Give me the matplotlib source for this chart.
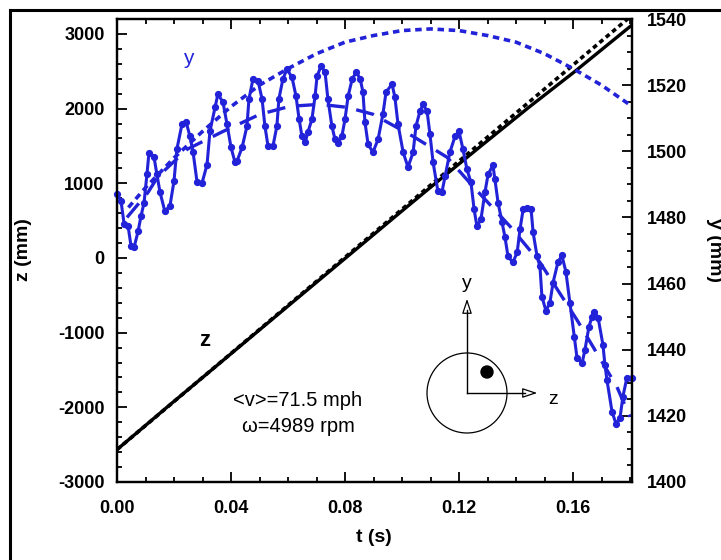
import matplotlib
matplotlib.use('Agg')
import matplotlib.pyplot as plt
from matplotlib.ticker import MultipleLocator, FixedLocator
from matplotlib.patches import Circle
from matplotlib.lines import Line2D

plt.rcParams['font.family'] = ['Liberation Sans', 'DejaVu Sans']
plt.rcParams['axes.unicode_minus'] = False

BLUE = '#2222d8'

# ---- measured y (right axis, mm) ----
t_y = [0.0000, 0.0014, 0.0025, 0.0039, 0.0049, 0.0060, 0.0074, 0.0084, 0.0095, 0.0105,
       0.0112, 0.0130, 0.0140, 0.0151, 0.0168, 0.0186, 0.0200, 0.0210, 0.0228, 0.0242,
       0.0256, 0.0267, 0.0281, 0.0298, 0.0316, 0.0326, 0.0344, 0.0354, 0.0372, 0.0386,
       0.0400, 0.0414, 0.0421, 0.0439, 0.0456, 0.0463, 0.0477, 0.0495, 0.0509, 0.0519,
       0.0530, 0.0547, 0.0561, 0.0568, 0.0582, 0.0596, 0.0614, 0.0628, 0.0639, 0.0649,
       0.0660, 0.0670, 0.0684, 0.0695, 0.0702, 0.0716, 0.0730, 0.0740, 0.0754, 0.0765,
       0.0775, 0.0789, 0.0800, 0.0811, 0.0825, 0.0839, 0.0853, 0.0863, 0.0870, 0.0881,
       0.0898, 0.0916, 0.0933, 0.0944, 0.0965, 0.0975, 0.0986, 0.1004, 0.1021, 0.1039,
       0.1049, 0.1063, 0.1074, 0.1088, 0.1098, 0.1109, 0.1126, 0.1140, 0.1151, 0.1168,
       0.1186, 0.1200, 0.1214, 0.1228, 0.1242, 0.1253, 0.1263, 0.1277, 0.1291, 0.1302,
       0.1319, 0.1326, 0.1337, 0.1351, 0.1361, 0.1372, 0.1389, 0.1404, 0.1414, 0.1425,
       0.1439, 0.1453, 0.1460, 0.1474, 0.1484, 0.1491, 0.1505, 0.1519, 0.1530, 0.1547,
       0.1561, 0.1575, 0.1589, 0.1604, 0.1614, 0.1632, 0.1642, 0.1656, 0.1667, 0.1674,
       0.1688, 0.1705, 0.1712, 0.1719, 0.1737, 0.1751, 0.1765, 0.1775, 0.1789, 0.1807]
y_meas = [1487.0, 1485.0, 1478.0, 1477.3, 1471.5, 1471.0, 1475.8, 1480.3, 1484.5, 1493.0,
          1499.4, 1498.2, 1493.0, 1487.6, 1481.8, 1483.6, 1491.0, 1500.6, 1508.2, 1509.0,
          1504.5, 1499.7, 1490.6, 1490.3, 1496.0, 1506.0, 1513.3, 1517.3, 1514.8, 1508.2,
          1501.2, 1496.7, 1497.0, 1501.2, 1507.6, 1515.8, 1521.8, 1521.2, 1515.8, 1507.6,
          1501.5, 1501.5, 1507.6, 1515.8, 1521.8, 1524.8, 1522.4, 1516.7, 1509.7, 1504.5,
          1502.7, 1505.8, 1509.7, 1516.7, 1522.7, 1525.8, 1523.9, 1515.8, 1507.6, 1503.6,
          1502.4, 1504.5, 1509.7, 1516.7, 1521.8, 1523.9, 1522.0, 1517.9, 1508.8, 1502.1,
          1499.7, 1503.6, 1511.2, 1517.9, 1520.3, 1516.4, 1508.2, 1499.7, 1495.2, 1499.7,
          1507.6, 1512.1, 1514.2, 1512.1, 1505.2, 1496.7, 1487.9, 1487.6, 1492.4, 1499.7,
          1504.5, 1506.0, 1500.6, 1494.5, 1490.6, 1482.4, 1477.3, 1479.4, 1487.6, 1493.0,
          1495.8, 1491.5, 1484.5, 1478.5, 1474.2, 1468.2, 1466.4, 1469.4, 1476.4, 1482.4,
          1483.0, 1482.4, 1475.5, 1468.2, 1465.2, 1456.0, 1451.8, 1454.2, 1460.3, 1466.4,
          1468.5, 1463.6, 1454.2, 1443.9, 1437.6, 1436.0, 1440.0, 1447.0, 1450.0, 1451.5,
          1449.7, 1441.5, 1435.5, 1430.9, 1421.2, 1417.6, 1419.4, 1425.8, 1431.5, 1431.5]

# ---- smoothed y (dashed) ----
t_ysm = [0.0035, 0.0109, 0.0144, 0.0246, 0.0372, 0.0502, 0.0607, 0.0712, 0.0807, 0.0898,
         0.1039, 0.1158, 0.1249, 0.1379, 0.1484, 0.1614, 0.1754, 0.1800]
y_sm = [1480.0, 1487.6, 1492.4, 1500.6, 1506.0, 1511.2, 1513.6, 1514.2, 1513.3, 1511.2,
        1504.5, 1498.2, 1489.4, 1477.3, 1466.4, 1449.0, 1428.8, 1419.7]

# ---- no-spin trajectory y (dotted) ----
t_ypar = [0.004, 0.010, 0.020, 0.030, 0.040, 0.050, 0.060, 0.070, 0.080, 0.090,
          0.100, 0.110, 0.120, 0.130, 0.140, 0.150, 0.160, 0.170, 0.1807]
y_par = [1483.0, 1489.0, 1498.0, 1506.0, 1513.5, 1520.0, 1525.0, 1529.5, 1533.0, 1535.0,
         1536.5, 1537.0, 1536.5, 1535.0, 1533.0, 1529.5, 1525.0, 1520.0, 1513.6]

# ---- measured z (left axis, mm) ----
t_z = [0.0000, 0.0175, 0.0407, 0.0642, 0.0818, 0.1000, 0.1133, 0.1274, 0.1446, 0.1604, 0.1807]
z_meas = [-2566, -2000, -1260, -510, 50, 630, 1050, 1490, 2020, 2490, 3120]

# ---- z fit (dotted) ----
t_zfit = [0.0000, 0.1807]
z_fit = [-2566, 3250]

xticks = [0.00, 0.04, 0.08, 0.12, 0.16]
xticklabels = ['0.00', '0.04', '0.08', '0.12', '0.16']
zticks = [-3000, -2000, -1000, 0, 1000, 2000, 3000]
yticks = [1400, 1420, 1440, 1460, 1480, 1500, 1520, 1540]

W, H = 721, 560
fig = plt.figure(figsize=(W / 100, H / 100), dpi=100)
ax = fig.add_axes([117 / W, 1 - 482 / H, (632 - 117) / W, (482 - 19) / H])
ax2 = ax.twinx()

# z curves
ax.plot(t_zfit, z_fit, color='black', lw=2.6, ls=(0, (1.3, 1.0)), zorder=3)
ax.plot(t_z, z_meas, color='black', lw=2.4, zorder=3)

# y curves
ax2.plot(t_ypar, y_par, color=BLUE, lw=2.6, ls=(0, (1.8, 1.3)), zorder=2)
ax2.plot(t_ysm, y_sm, color=BLUE, lw=2.4, ls=(0, (5.5, 3.5)), zorder=2)
ax2.plot(t_y, y_meas, color=BLUE, lw=2.2, marker='o', ms=4.2, zorder=2, clip_on=False)

ax.set_xlim(0, 0.1807)
ax.set_ylim(-3000, 3200)
ax2.set_ylim(1400, 1540)

ax.xaxis.set_major_locator(FixedLocator(xticks))
ax.set_xticklabels(xticklabels)
ax.xaxis.set_minor_locator(MultipleLocator(0.01))
ax.yaxis.set_major_locator(FixedLocator(zticks))
ax.yaxis.set_minor_locator(MultipleLocator(200))
ax2.yaxis.set_major_locator(FixedLocator(yticks))
ax2.yaxis.set_minor_locator(MultipleLocator(5))

for a in (ax, ax2):
    for s in a.spines.values():
        s.set_linewidth(1.6)
ax.tick_params(axis='x', which='both', direction='in', top=True, bottom=True, width=1.3)
ax.tick_params(axis='x', which='major', length=7, pad=13)
ax.tick_params(axis='x', which='minor', length=3.5)
ax.tick_params(axis='y', which='both', direction='in', width=1.3)
ax.tick_params(axis='y', which='major', length=7, pad=9)
ax.tick_params(axis='y', which='minor', length=3.5)
ax2.tick_params(axis='y', which='both', direction='in', width=1.3)
ax2.tick_params(axis='y', which='major', length=7, pad=11)
ax2.tick_params(axis='y', which='minor', length=3.5)

for lab in ax.get_xticklabels() + ax.get_yticklabels() + ax2.get_yticklabels():
    lab.set_fontsize(13)
    lab.set_fontweight('bold')

fig.text(374 / W, 1 - 537 / H, 't (s)', ha='center', va='center', fontsize=14, fontweight='bold')
fig.text(23 / W, 1 - 250 / H, 'z (mm)', ha='center', va='center', rotation=90, fontsize=14, fontweight='bold')
fig.text(714 / W, 1 - 250 / H, 'y (mm)', ha='center', va='center', rotation=270, fontsize=14, fontweight='bold')

# curve labels and annotations
fig.text(188 / W, 1 - 58 / H, 'y', color=BLUE, ha='center', va='center', fontsize=15)
fig.text(205 / W, 1 - 340 / H, 'z', color='black', ha='center', va='center', fontsize=16, fontweight='bold')
fig.text(298 / W, 1 - 400 / H, '<v>=71.5 mph', ha='center', va='center', fontsize=14.5)
fig.text(298 / W, 1 - 427 / H, '\u03c9=4989 rpm', ha='center', va='center', fontsize=14.5)

# inset spin diagram
cx, cy = 467 / 100, (H - 393) / 100
fig.patches.append(Circle((cx, cy), 0.40, transform=fig.dpi_scale_trans, fill=False,
                          ec='black', lw=0.9))
fig.patches.append(Circle((4.87, (H - 372) / 100), 0.06, transform=fig.dpi_scale_trans,
                          fc='black', ec='black'))
fig.add_artist(Line2D([cx, cx], [cy, (H - 310) / 100], transform=fig.dpi_scale_trans,
                      color='black', lw=1.0))
fig.add_artist(Line2D([cx, 5.25], [cy, cy], transform=fig.dpi_scale_trans,
                      color='black', lw=1.0))
ax.annotate('', xy=(cx, (H - 296) / 100), xytext=(cx, (H - 312) / 100),
            xycoords=fig.dpi_scale_trans, textcoords=fig.dpi_scale_trans,
            arrowprops=dict(arrowstyle='-|>,head_length=0.9,head_width=0.3', fc='white', ec='black', lw=0.9))
ax.annotate('', xy=(5.40, cy), xytext=(5.24, cy),
            xycoords=fig.dpi_scale_trans, textcoords=fig.dpi_scale_trans,
            arrowprops=dict(arrowstyle='-|>,head_length=0.9,head_width=0.3', fc='white', ec='black', lw=0.9))
fig.text(4.67 / 7.21, 1 - 283 / H, 'y', ha='center', va='center', fontsize=14)
fig.text(553 / W, 1 - 400 / H, 'z', ha='center', va='center', fontsize=14)

# outer frame
fig.add_artist(Line2D([10 / W, 1.0], [1 - 10 / H, 1 - 10 / H], transform=fig.transFigure, color='black', lw=2.2))
fig.add_artist(Line2D([10 / W, 10 / W], [0.0, 1 - 10 / H], transform=fig.transFigure, color='black', lw=2.2))

fig.savefig('out.png', dpi=100)
